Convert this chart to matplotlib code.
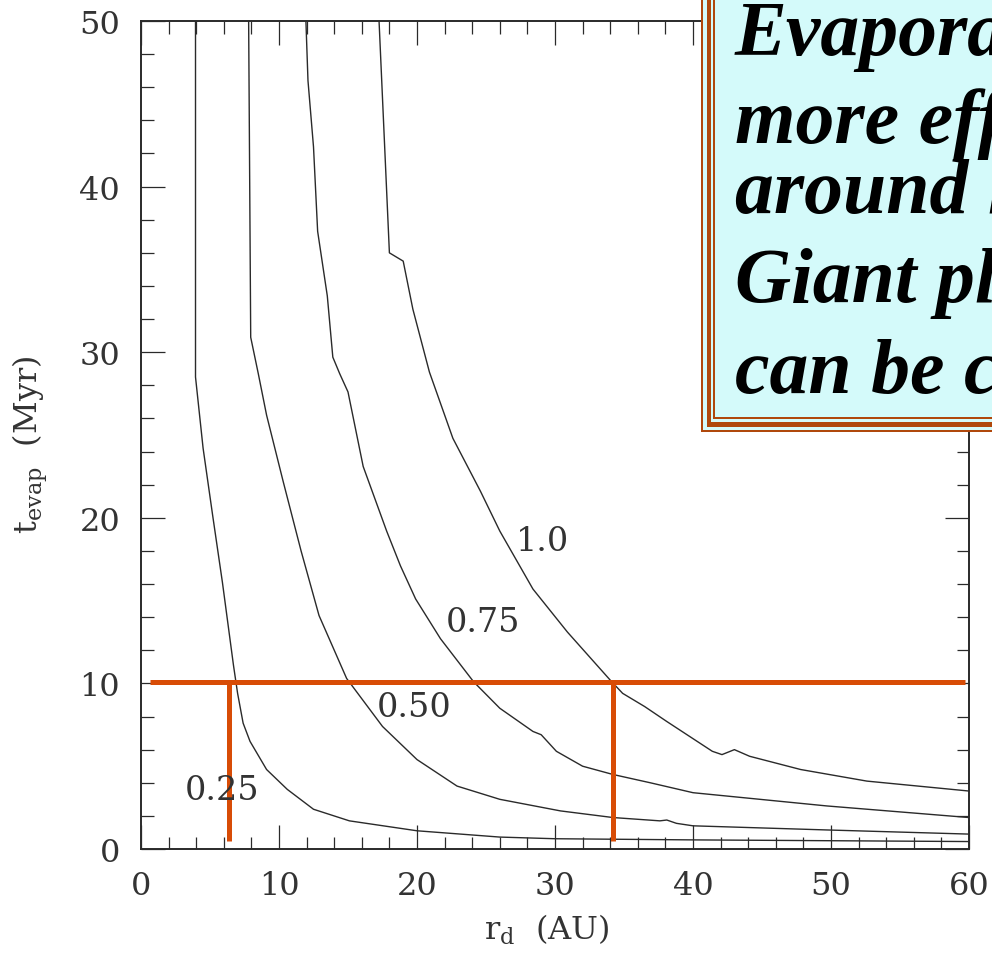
import matplotlib
matplotlib.use("Agg")
import matplotlib.pyplot as plt
from matplotlib.ticker import MultipleLocator
from matplotlib.patches import Rectangle

plt.rcParams['font.family'] = ['DejaVu Serif']
plt.rcParams['mathtext.fontset'] = 'dejavuserif'

# evaporation time curves, labelled by stellar mass
r_025 = [3.95, 3.95, 4.5, 5.2, 5.9, 6.7, 7.0, 7.4, 7.9, 9.1, 10.6, 12.5, 15.1, 20.0, 26.0, 30.0, 40.0, 50.0, 60.0]
t_025 = [50.0, 28.5, 24.2, 20.1, 16.1, 11.1, 9.4, 7.6, 6.5, 4.8, 3.6, 2.4, 1.7, 1.1, 0.72, 0.62, 0.55, 0.5, 0.45]

r_050 = [7.8, 7.95, 8.5, 9.1, 10.3, 11.6, 12.9, 14.9, 17.5, 20.0, 22.9, 26.0, 30.4, 34.2, 37.6, 38.1, 38.8, 40.0, 49.7, 60.0]
t_050 = [50.0, 30.9, 28.7, 26.2, 22.2, 18.0, 14.1, 10.3, 7.4, 5.4, 3.8, 3.0, 2.3, 1.9, 1.7, 1.75, 1.55, 1.4, 1.15, 0.9]

r_075 = [11.95, 12.1, 12.5, 12.8, 13.5, 13.9, 14.4, 15.0, 16.1, 17.8, 18.8, 19.9, 21.7, 24.1, 26.0, 28.4, 29.0, 30.1, 32.0, 34.2, 36.9, 40.0, 49.7, 60.0]
t_075 = [50.0, 46.4, 42.4, 37.3, 33.4, 29.7, 28.7, 27.6, 23.1, 19.2, 17.1, 15.1, 12.7, 10.1, 8.5, 7.1, 6.9, 5.9, 5.0, 4.5, 4.0, 3.4, 2.6, 1.9]

r_100 = [17.25, 17.55, 18.0, 19.0, 19.7, 20.9, 22.6, 24.6, 26.0, 28.4, 30.9, 34.0, 34.9, 36.5, 38.1, 41.4, 42.1, 43.0, 44.1, 47.8, 52.6, 60.0]
t_100 = [50.0, 44.4, 36.0, 35.5, 32.6, 28.8, 24.8, 21.6, 19.2, 15.7, 13.1, 10.2, 9.4, 8.6, 7.7, 5.9, 5.7, 6.0, 5.6, 4.8, 4.1, 3.5]

curves = [(r_025, t_025), (r_050, t_050), (r_075, t_075), (r_100, t_100)]
curve_labels = ['0.25', '0.50', '0.75', '1.0']
label_x = [5.85, 19.8, 24.8, 29.1]
label_y = [3.55, 8.6, 13.7, 18.6]

# 10 Myr marker and the two radii it picks out
t_mark = 10.1
r_marks = [6.4, 34.2]

box_lines = ["Evaporation is", "more efficient", "around low-mass", "Giant planets", "can be cores"]
box_baselines = [55, 143, 213, 302, 393]  # pixels from top

W, H = 992, 954
fig = plt.figure(figsize=(W / 100, H / 100), dpi=100)
ax = fig.add_axes([141 / W, 1 - 850 / H, 828 / W, 828 / H])

ink = '#2a2a2a'
for (r, t) in curves:
    ax.plot(r, t, color=ink, lw=1.0)
for lab, lx, ly in zip(curve_labels, label_x, label_y):
    ax.text(lx, ly, lab, fontsize=24, ha='center', va='center', color='#333333')

red = '#d84c06'
ax.plot([0.65, 59.7], [t_mark, t_mark], color=red, lw=3.6, solid_capstyle='butt')
for rm in r_marks:
    ax.plot([rm, rm], [0.5, t_mark], color=red, lw=3.6, solid_capstyle='butt')

ax.set_xlim(0, 60)
ax.set_ylim(0, 50)
ax.set_xticks(range(0, 61, 10))
ax.set_yticks(range(0, 51, 10))
ax.xaxis.set_minor_locator(MultipleLocator(2))
ax.yaxis.set_minor_locator(MultipleLocator(2))
ax.tick_params(which='both', direction='in', top=True, right=True, color=ink, width=0.9)
ax.tick_params(which='major', length=17, pad=15, labelsize=23, labelcolor='#333333')
ax.tick_params(which='minor', length=9)
for s in ax.spines.values():
    s.set_linewidth(1.4)
    s.set_color(ink)

ax.set_xlabel(r'r$_{\rm d}$  (AU)', fontsize=23, color='#333333')
ax.set_ylabel(r't$_{\rm evap}$  (Myr)', fontsize=23, color='#333333')
ax.xaxis.set_label_coords(0.49, -0.076)
ax.yaxis.set_label_coords(-0.11, 0.49)

# framed note box, running off the top-right corner
brown = '#b0480c'
light = '#d4fafa'
layers = [(701, 433, brown), (703, 431, light), (707, 428, brown),
          (711, 423, light), (713, 420, brown), (715, 418, light)]
for left, bottom, col in layers:
    fig.add_artist(Rectangle((left / W, 1 - bottom / H), 1.0, 1.0,
                             transform=fig.transFigure, facecolor=col,
                             edgecolor='none', clip_on=False, zorder=5))
for line, base in zip(box_lines, box_baselines):
    fig.text(735 / W, 1 - base / H, line, fontsize=56, family='Liberation Serif',
             style='italic', weight='bold', va='baseline', ha='left', color='black', zorder=6)

fig.savefig('out.png', dpi=100)
